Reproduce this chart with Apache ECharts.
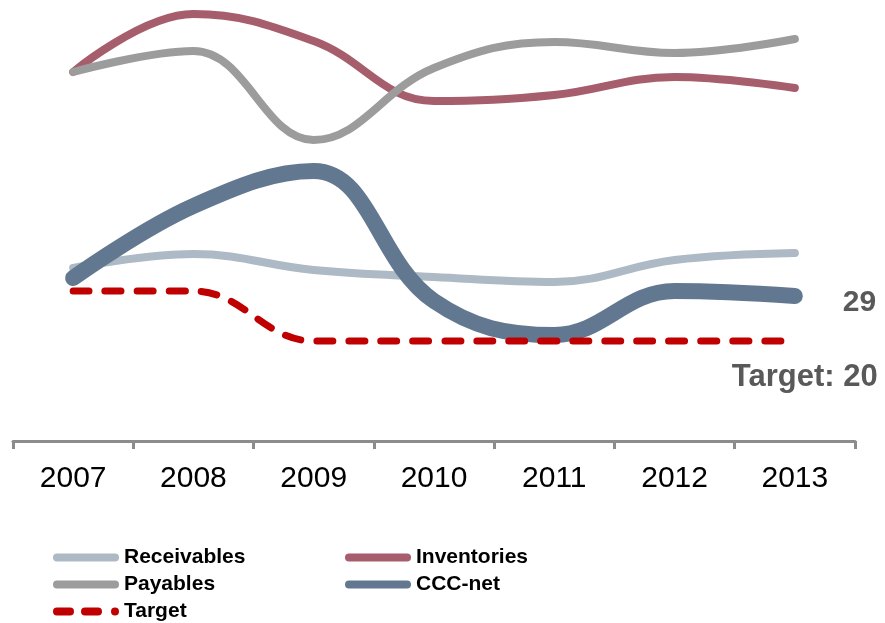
<!DOCTYPE html>
<html>
<head>
<meta charset="utf-8">
<script src="https://cdn.jsdelivr.net/npm/echarts@6/dist/echarts.min.js"></script>
<style>
html,body{margin:0;padding:0;background:#fff;}
#chart{width:885px;height:623px;}
</style>
</head>
<body>
<div id="chart"></div>
<script>
const years = ['2007','2008','2009','2010','2011','2012','2013'];
const receivables = [34.6, 37.4, 34.2, 32.8, 31.8, 36.2, 37.6];
const inventories = [73.8, 85.4, 80.0, 68.0, 69.2, 72.8, 70.6];
const payables    = [73.8, 78.0, 60.2, 74.6, 79.8, 77.6, 80.4];
const cccNet      = [32.6, 47.0, 54.0, 28.0, 21.2, 30.0, 29.0];
const target      = [30, 30, 20, 20, 20, 20, 20];

const FONT = '"Liberation Sans", Arial, sans-serif';
const chart = echarts.init(document.getElementById('chart'), null, {renderer:'canvas'});

const SOLID_ICON = 'path://M4,0 H62 A4,4 0 0 1 62,8 H4 A4,4 0 0 1 4,0 Z';
const DASH_ICON = 'path://M4,0 H17 A4,4 0 0 1 17,8 H4 A4,4 0 0 1 4,0 Z ' +
                  'M32,0 H45 A4,4 0 0 1 45,8 H32 A4,4 0 0 1 32,0 Z ' +
                  'M62,0 A4,4 0 0 1 62,8 A4,4 0 0 1 62,0 Z';

function lineSeries(name, data, color, width, extra) {
  return Object.assign({
    name: name,
    type: 'line',
    data: data,
    smooth: 0.4,
    symbol: 'none',
    lineStyle: {color: color, width: width, cap: 'round', join: 'round'},
    itemStyle: {color: color},
    emphasis: {disabled: true}
  }, extra || {});
}

const legendCommon = {
  orient: 'vertical',
  itemWidth: 66,
  itemHeight: 8,
  itemGap: 6,
  height: 120,
  icon: SOLID_ICON,
  textStyle: {fontFamily: FONT, fontSize: 21, fontWeight: 'bold', color: '#000'},
  selectedMode: false
};

chart.setOption({
  animation: false,
  grid: {left: 13, right: 30, top: 1, bottom: 182},
  legend: [
    Object.assign({}, legendCommon, {left: 48, top: 542,
      data: ['Receivables', 'Payables', {name: 'Target', icon: DASH_ICON}]}),
    Object.assign({}, legendCommon, {left: 340, top: 542, data: ['Inventories', 'CCC-net']})
  ],
  xAxis: {
    type: 'category',
    data: years,
    boundaryGap: true,
    axisLine: {show: true, lineStyle: {color: '#8c8c8c', width: 3}},
    axisTick: {show: true, length: 8, alignWithLabel: false, interval: 0, lineStyle: {color: '#8c8c8c', width: 3}},
    axisLabel: {fontFamily: FONT, fontSize: 30, color: '#000', margin: 23},
    splitLine: {show: false}
  },
  yAxis: {
    type: 'value', min: 0, max: 88,
    show: false, splitLine: {show: false}
  },
  series: [
    lineSeries('Receivables', receivables, '#adb9c5', 8),
    lineSeries('Inventories', inventories, '#a65d6c', 8),
    lineSeries('Payables', payables, '#9c9c9c', 8),
    lineSeries('CCC-net', cccNet, '#627890', 16, {
      endLabel: {show: true, formatter: '{c}', distance: 48, offset: [0, 7],
        fontFamily: FONT, fontSize: 30, fontWeight: 'bold', color: '#595959'}
    }),
    lineSeries('Target', target, '#c00000', 7, {
      lineStyle: {color: '#c00000', width: 7, cap: 'round', type: [16, 16]},
      endLabel: {show: true, formatter: 'Target: {c}', distance: 5, offset: [-68, 36],
        fontFamily: FONT, fontSize: 31, fontWeight: 'bold', color: '#595959'}
    })
  ]
});
</script>
</body>
</html>
